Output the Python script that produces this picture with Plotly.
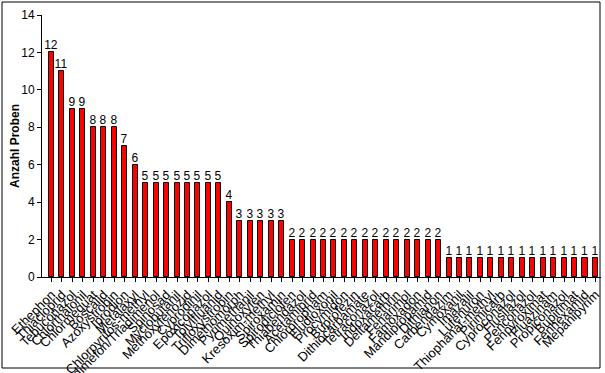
import plotly.graph_objects as go

categories = [
    "Ethephon", "Thiacloprid", "Tebuconazol", "Chlorthalonil", "Chlormequat",
    "Boscalid", "Azoxystrobin", "Iprodion", "Metalaxyl", "Chlorpyrifos-methyl",
    "Triadimefon/Triadimenol", "Spinosad", "Myclobutanil", "Methoxyfenozid",
    "Cyprodinil", "Epoxiconazol", "Tolylfluanid", "Trifloxystrobin",
    "Dimethomorph", "Pyrimethanil", "Quinoxyfen", "Kresoxim-methyl",
    "Spiroxamin", "Spirodiclofen", "Thiabendazol", "Acetamiprid",
    "Chlorpropham", "Fludioxonil", "Procymidon", "Buprofezin",
    "Dithiocarbamate", "Tetraconazol", "Indoxacarb", "Deltamethrin",
    "Fenarimol", "Famoxadon", "Mandipropamid", "Dithianon", "Carbendazim",
    "Cymoxanil", "Imazalil", "Lufenuron", "Thiophanat-methyl", "Pirimicarb",
    "Cyproconazol", "Flusilazol", "Penconazol", "Fenpyroximat", "Fluazinam",
    "Propiconazol", "Bupirimat", "Fenhexamid", "Mepanipyrim",
]
values = [12, 11, 9, 9, 8, 8, 8, 7, 6,
          5, 5, 5, 5, 5, 5, 5, 5,
          4,
          3, 3, 3, 3, 3,
          2, 2, 2, 2, 2, 2, 2, 2, 2, 2, 2, 2, 2, 2, 2,
          1, 1, 1, 1, 1, 1, 1, 1, 1, 1, 1, 1, 1, 1, 1]
y_ticks = [0, 2, 4, 6, 8, 10, 12, 14]
y_title = "Anzahl Proben"

FONT = "Liberation Sans, Arial, sans-serif"
label_font = dict(family=FONT, size=12, color="#000000")

fig = go.Figure(go.Bar(
    x=list(range(len(categories))),
    y=values,
    width=0.48,
    marker=dict(color="#FF0000", line=dict(color="#000000", width=1)),
    text=[str(v) for v in values],
    textposition="outside",
    constraintext="none",
    cliponaxis=False,
    textfont=label_font,
    outsidetextfont=label_font,
    hoverinfo="x+y",
))

W, H = 605, 373
ml, mr, mt, mb = 42, 4, 15, 96
pw = W - ml - mr
ph = H - mt - mb

fig.update_layout(
    width=W, height=H,
    margin=dict(l=ml, r=mr, t=mt, b=mb, pad=0, autoexpand=False),
    paper_bgcolor="white", plot_bgcolor="white",
    showlegend=False,
    bargap=0,
    font=dict(family=FONT, size=12, color="#000000"),
    xaxis=dict(
        tickmode="array",
        tickvals=list(range(len(categories))),
        ticktext=categories,
        tickangle=-45,
        tickfont=dict(family=FONT, size=13, color="#000000"),
        range=[-0.91, 52.53],
        showgrid=False, zeroline=False,
        showline=True, linecolor="#000000", linewidth=1,
        ticks="outside", ticklen=4, tickcolor="#000000",
        tickson="boundaries",
        automargin=False,
    ),
    yaxis=dict(
        range=[0, 14],
        tickmode="array", tickvals=y_ticks,
        tickfont=dict(family=FONT, size=12, color="#000000"),
        showgrid=False, zeroline=False,
        showline=True, linecolor="#000000", linewidth=1,
        ticks="outside", ticklen=4, tickcolor="#000000",
        automargin=False,
    ),
    annotations=[dict(
        text="<b>" + y_title + "</b>",
        xref="paper", yref="paper",
        x=(15 - ml) / pw, y=0.5,
        textangle=-90, showarrow=False,
        font=dict(family=FONT, size=12, color="#000000"),
        xanchor="center", yanchor="middle",
    )],
    shapes=[dict(
        type="rect", xref="paper", yref="paper",
        x0=(2 - ml) / pw, x1=(600 - ml) / pw,
        y0=(H - mb - 368) / ph, y1=(H - mb - 2) / ph,
        line=dict(color="#000000", width=1),
        fillcolor="rgba(0,0,0,0)",
    )],
)

fig.write_html(
    "out.html",
    config={"displayModeBar": False},
    post_script="document.body.style.margin='0';document.body.style.overflow='hidden';",
)
